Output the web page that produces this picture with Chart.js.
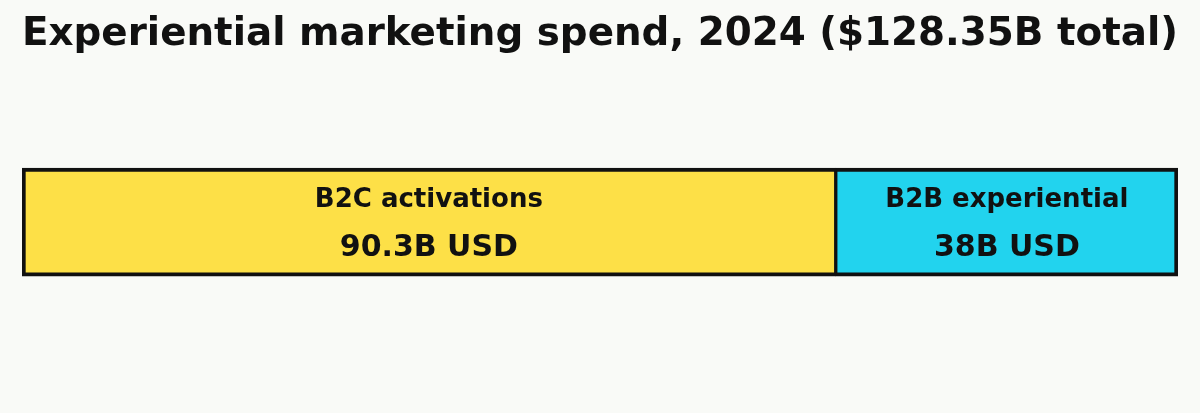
<!DOCTYPE html>
<html>
<head>
<meta charset="utf-8">
<script src="https://cdn.jsdelivr.net/npm/chart.js@4.4.1/dist/chart.umd.min.js"></script>
<style>
  html, body { margin: 0; padding: 0; background: #f9faf7; }
  #wrap { width: 1200px; height: 413px; }
</style>
</head>
<body>
<div id="wrap"><canvas id="c" width="1200" height="413"></canvas></div>
<script>
const categories = ["B2C activations", "B2B experiential"];
const values = [90.35, 38];
const colors = ["#fde047", "#22d3ee"];
const titleText = "Experiential marketing spend, 2024 ($128.35B total)";

function fmt(v) { return Number(v.toFixed(1)).toString() + "B USD"; }

const labelPlugin = {
  id: "segLabels",
  afterDatasetsDraw(chart) {
    const ctx = chart.ctx;
    chart.data.datasets.forEach((ds, i) => {
      const meta = chart.getDatasetMeta(i);
      meta.data.forEach((bar) => {
        const p = bar.getProps(["x", "y", "base", "height"], true);
        const cx = (p.x + p.base) / 2;
        ctx.save();
        ctx.fillStyle = "#111111";
        ctx.textAlign = "center";
        ctx.textBaseline = "middle";
        ctx.font = "bold 26px 'DejaVu Sans'";
        ctx.fillText(ds.label, cx, p.y - 22);
        ctx.font = "bold 30px 'DejaVu Sans'";
        ctx.fillText(fmt(ds.data[0]), cx, p.y + 26);
        ctx.restore();
      });
    });
  }
};

new Chart(document.getElementById("c"), {
  type: "bar",
  data: {
    labels: ["Spend"],
    datasets: categories.map((name, i) => ({
      label: name,
      data: [values[i]],
      backgroundColor: colors[i],
      borderColor: "#111111",
      borderWidth: i === 0 ? { top: 4, bottom: 4, left: 4, right: 2 } : { top: 4, bottom: 4, left: 2, right: 4 },
      borderSkipped: false,
      barThickness: 108
    }))
  },
  options: {
    indexAxis: "y",
    responsive: false,
    animation: false,
    devicePixelRatio: 1,
    layout: { padding: { left: 22, right: 22, top: 0, bottom: 37 } },
    scales: {
      x: { stacked: true, display: false, min: 0, max: values.reduce((a, b) => a + b, 0) },
      y: { stacked: true, display: false }
    },
    plugins: {
      legend: { display: false },
      tooltip: { enabled: false },
      title: {
        display: true,
        text: titleText,
        color: "#111111",
        font: { family: "'DejaVu Sans'", size: 39.5, weight: "bold" },
        padding: { top: 11, bottom: 10 }
      }
    }
  },
  plugins: [labelPlugin]
});
</script>
</body>
</html>
